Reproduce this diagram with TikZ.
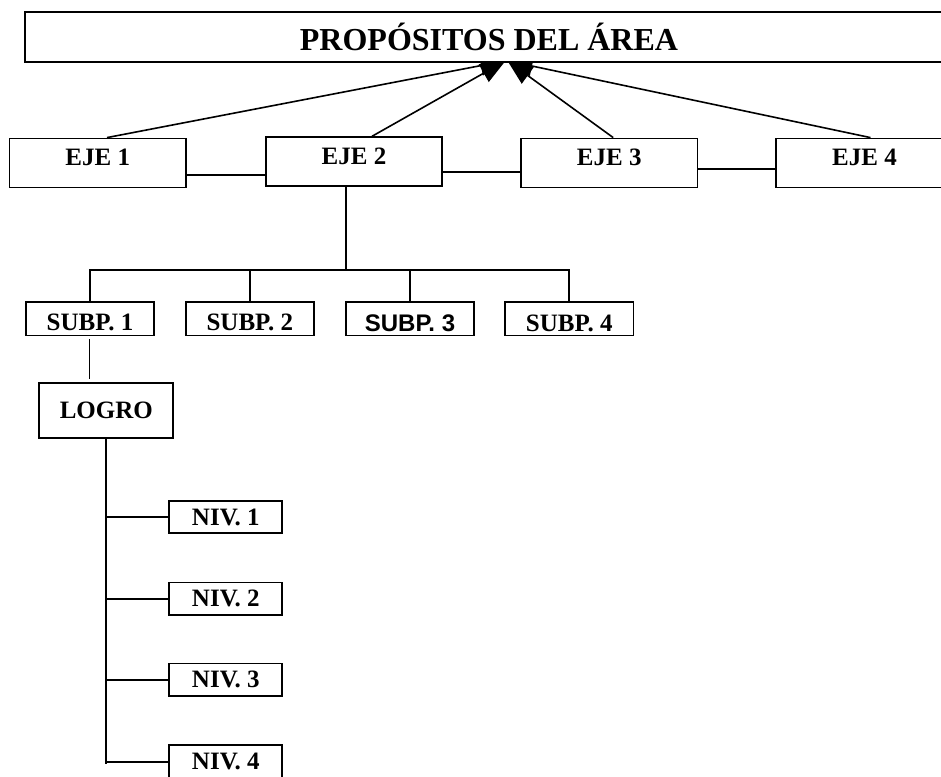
\documentclass[tikz,border=0pt]{standalone}
\usepackage{fontspec}
\setmainfont{Liberation Serif}
\newfontfamily\arialf{Liberation Sans}
\usetikzlibrary{arrows.meta,calc,backgrounds}
\begin{document}
\begin{tikzpicture}[x=1pt,y=-1pt,
  box/.style={draw, line width=1.8pt, fill=white, inner sep=0pt,
    font=\fontsize{25}{30}\selectfont\bfseries},
  titlebox/.style={draw, line width=2.2pt, fill=white, inner sep=0pt,
    minimum width=928pt, minimum height=49.5pt,
    font=\fontsize{32}{38}\selectfont\bfseries},
  ejebox/.style={box, minimum width=176.5pt, minimum height=49pt,
    text height=16.5pt, text depth=11pt},
  subbox/.style={box, minimum width=128.5pt, minimum height=33.5pt,
    text height=24.5pt, text depth=0pt},
  logrobox/.style={box, minimum width=134pt, minimum height=55pt},
  nivbox/.style={box, minimum width=113pt, minimum height=32.6pt},
  link/.style={line width=2pt},
  arr/.style={line width=1.6pt, -{Triangle[length=25pt,width=20pt]}}
]
\useasboundingbox (0,0) rectangle (941,776);
\clip (0,0) rectangle (941,776);

\node[titlebox] (t) at (489,37) {PROPÓSITOS DEL ÁREA};

\node[ejebox] (e1) at (97.7,163) {EJE 1};
\node[ejebox] (e2) at (354,161.7) {EJE 2};
\node[ejebox] (e3) at (609.2,163) {EJE 3};
\node[ejebox] (e4) at (864.5,163) {EJE 4};

\node[subbox] (s1) at (90,318.7) {SUBP. 1};
\node[subbox] (s2) at (249.9,318.7) {SUBP. 2};
\node[subbox] (s3) at (410,318.8) {\arialf\fontsize{24}{29}\selectfont\bfseries SUBP. 3};
\node[subbox] (s4) at (569.2,318.8) {SUBP. 4};

\node[logrobox] (lg) at (106.3,410.2) {LOGRO};

\node[nivbox] (n1) at (225.8,517) {NIV. 1};
\node[nivbox] (n2) at (225.8,598.7) {NIV. 2};
\node[nivbox] (n3) at (225.8,679.7) {NIV. 3};
\node[nivbox] (n4) at (225.8,761.5) {NIV. 4};

% arrows to the title box (tips partly hidden behind it)
\begin{scope}[on background layer]
  \coordinate (tl) at ($(t.south)+(16.5,-2)$);
  \coordinate (tr) at ($(t.south)+(18.5,-2)$);
  \draw[arr] ($(e1.north)+(9.3,0)$) -- (tl);
  \draw[arr] ($(e2.north)+(18,0)$) -- (tl);
  \draw[arr] ($(e3.north)+(4,0)$) -- (tr);
  \draw[arr] ($(e4.north)+(6,0)$) -- (tr);
\end{scope}

% links between the axes
\draw[link] ($(e1.east)+(0,12)$) coordinate (h1) -- (h1 -| e2.west);
\draw[link] ($(e2.east)+(0,10.6)$) coordinate (h2) -- (h2 -| e3.west);
\draw[link] ($(e3.east)+(0,6.3)$) coordinate (h3) -- (h3 -| e4.west);

% tree to the sub-processes
\coordinate (bus) at (345.7,270);
\draw[link] (e2.south -| bus) -- (bus);
\draw[link] (s1.north) -- (s1.north |- bus) -- (s4.north |- bus) -- (s4.north);
\draw[link] (s2.north) -- (s2.north |- bus);
\draw[link] (s3.north) -- (s3.north |- bus);

% sub-process 1 to achievement
\draw[link, line width=1.6pt, shorten <=3pt, shorten >=3pt] ($(s1.south)+(-0.7,0)$) coordinate (v1) -- (v1 |- lg.north);

% achievement to levels
\draw[link] (lg.south) -- ($(lg.south |- n4.west)+(0,2)$);
\draw[link] (n1.west) -- (n1.west -| lg.south);
\draw[link] (n2.west) -- (n2.west -| lg.south);
\draw[link] (n3.west) -- (n3.west -| lg.south);
\draw[link] (n4.west) -- (n4.west -| lg.south);
\end{tikzpicture}
\end{document}
